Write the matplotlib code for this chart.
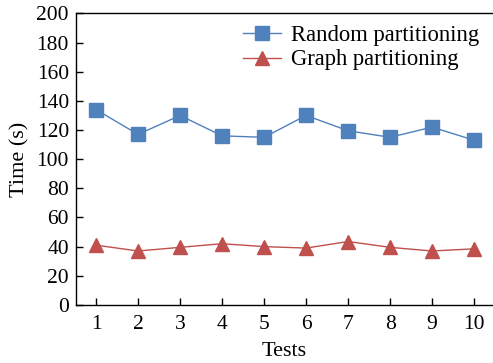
import matplotlib
matplotlib.use("Agg")
import matplotlib.pyplot as plt

tests = [1, 2, 3, 4, 5, 6, 7, 8, 9, 10]
random_partitioning = [134, 117, 130, 116, 115, 130, 119.5, 115, 122, 113]
graph_partitioning = [41, 37, 39.5, 42, 40, 39, 43.5, 39.5, 37, 38.5]
yticks = [0, 20, 40, 60, 80, 100, 120, 140, 160, 180, 200]

plt.rcParams['font.family'] = ['Liberation Serif', 'DejaVu Serif']
plt.rcParams['font.size'] = 16

fig = plt.figure(figsize=(4.93, 3.63), dpi=100)
ax = fig.add_axes([0.154, 0.160, 0.846, 0.803])

ax.plot(tests, random_partitioning, color='#4F81BD', marker='s', markersize=10,
        linewidth=1, label='Random partitioning')
ax.plot(tests, graph_partitioning, color='#C0504D', marker='^', markersize=10,
        linewidth=1, label='Graph partitioning')

ax.set_xlim(0.52, 10.45)
ax.set_ylim(0, 200)
ax.set_xticks(tests)
ax.set_yticks(yticks)
ax.tick_params(direction='in', length=5, width=1, labelsize=15.5)
ax.tick_params(axis='x', pad=7)
ax.tick_params(axis='y', pad=5)
ax.spines['right'].set_visible(False)
for s in ('left', 'bottom', 'top'):
    ax.spines[s].set_linewidth(1)

ax.set_xlabel('Tests', fontsize=16, labelpad=6)
ax.set_ylabel('Time (s)', fontsize=16, labelpad=5)

ax.legend(loc='upper left', frameon=False, fontsize=16.3, handlelength=1.7,
          handletextpad=0.45, borderpad=0, borderaxespad=0, labelspacing=0.15,
          bbox_to_anchor=(0.40, 0.96))

fig.savefig('out.png', dpi=100)
